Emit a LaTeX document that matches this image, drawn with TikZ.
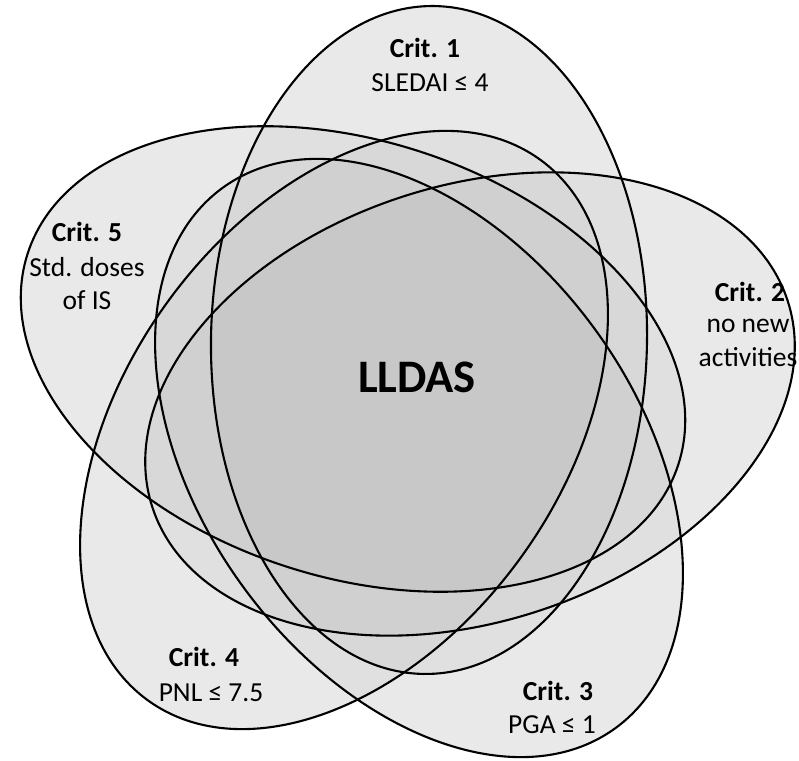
\documentclass[tikz,border=0pt]{standalone}
\usepackage{fontspec}
\setmainfont{Carlito}

\begin{document}
\begin{tikzpicture}[
  x=1pt, y=1pt,
  crit/.style={font=\fontsize{27.5}{33}\selectfont\bfseries, anchor=base, inner sep=0pt},
  cond/.style={font=\fontsize{27.5}{33}\selectfont, anchor=base, inner sep=0pt},
  setline/.style={draw=black, line width=2.1pt},
]
\useasboundingbox (0,0) rectangle (799,760);

% ===== the five criteria sets: centre x / centre y / long axis angle / long radius =====
\def\sets{429/420/89/334, 470/356/18/334, 419/302/-54/334, 344/330/54/334, 353/401/-18/342}
\def\rb{218}

% light base under the union
\foreach \cx/\cy/\ang/\ra in \sets{
  \fill[black!5, rotate around={\ang:(\cx,\cy)}] (\cx,\cy) ellipse [x radius=\ra, y radius=\rb];
}
% each set darkens what it covers
\foreach \cx/\cy/\ang/\ra in \sets{
  \fill[black, fill opacity=0.034, rotate around={\ang:(\cx,\cy)}] (\cx,\cy) ellipse [x radius=\ra, y radius=\rb];
}
% outlines
\foreach \cx/\cy/\ang/\ra in \sets{
  \draw[setline, rotate around={\ang:(\cx,\cy)}] (\cx,\cy) ellipse [x radius=\ra, y radius=\rb];
}

% ===== labels =====
\node[crit] (c1) at (425,702) {Crit. 1};
\node[cond] (c1t) at (430,668) {SLEDAI ≤ 4};

\node[crit] (c2) at (750,458) {Crit. 2};
\node[cond] (c2t) at (748,427) {no new};
\node[cond] (c2u) at (748,393) {activities};

\node[crit] (c3) at (558,60) {Crit. 3};
\node[cond] (c3t) at (552,27) {PGA ≤ 1};

\node[crit] (c4) at (204,94) {Crit. 4};
\node[cond] (c4t) at (211,59) {PNL ≤ 7.5};

\node[crit] (c5) at (87,518) {Crit. 5};
\node[cond] (c5t) at (87,483) {Std. doses};
\node[cond] (c5u) at (87,450) {of IS};

\node[font=\fontsize{46.6}{56}\selectfont\bfseries, anchor=base, inner sep=0pt] (lldas) at (417,367) {LLDAS};
\end{tikzpicture}
\end{document}
